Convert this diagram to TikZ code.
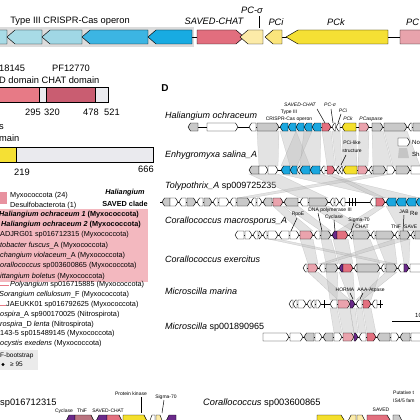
\documentclass[tikz,border=0pt]{standalone}
\usepackage{fontspec}
\setmainfont{Liberation Sans}
\definecolor{cA}{HTML}{A8DBE6}
\definecolor{cB}{HTML}{A0D7E5}
\definecolor{cC}{HTML}{3CB5E3}
\definecolor{cD}{HTML}{18ABE2}
\definecolor{cSC}{HTML}{E26E7E}
\definecolor{cPCs}{HTML}{FCEBA8}
\definecolor{cPCi}{HTML}{FBE57C}
\definecolor{cPCk}{HTML}{F5E034}
\definecolor{cPCasp}{HTML}{E8A3AC}
\definecolor{cBand}{HTML}{DCDCDC}
\definecolor{cDom1}{HTML}{E77A86}
\definecolor{cDom2}{HTML}{C95D71}
\definecolor{cLG}{HTML}{EAEAEE}
\definecolor{cG}{HTML}{C9C9C9}
\definecolor{cBl}{HTML}{1AA7DF}
\definecolor{cPk}{HTML}{E3707F}
\definecolor{cLPk}{HTML}{EAA3AD}
\definecolor{cYe}{HTML}{F4DF2C}
\definecolor{cPu}{HTML}{6A2A8A}
\definecolor{cBr}{HTML}{B9737F}
\definecolor{cTree}{HTML}{F3B8BF}
\definecolor{cLeg}{HTML}{E892A0}
\newcommand\geneR[6]{\filldraw[fill=#6,draw=black,line width=0.45pt,line join=round] (#1,{#3-#4}) -- ({#2-#5},{#3-#4}) -- (#2,#3) -- ({#2-#5},{#3+#4}) -- (#1,{#3+#4}) -- cycle;}
\newcommand\geneL[6]{\filldraw[fill=#6,draw=black,line width=0.45pt,line join=round] (#1,#3) -- ({#1+#5},{#3-#4}) -- (#2,{#3-#4}) -- (#2,{#3+#4}) -- ({#1+#5},{#3+#4}) -- cycle;}
\newcommand\dR[4]{\geneR{#1}{#2}{#3}{4}{2.5}{#4}}
\newcommand\dL[4]{\geneL{#1}{#2}{#3}{4}{2.5}{#4}}
\newcommand\band[6]{\filldraw[shadeband] (#1,#3) -- (#2,#3) -- (#5,#6) -- (#4,#6) -- cycle;}
\tikzset{
  lbl/.style={inner sep=0pt, font=\fontsize{9.3}{10}\selectfont},
  ilbl/.style={inner sep=0pt, font=\fontsize{9.3}{10}\selectfont\itshape},
  spn/.style={inner sep=0pt, anchor=west, font=\fontsize{9}{10}\selectfont\itshape},
  tiny/.style={inner sep=0pt, font=\fontsize{5}{6}\selectfont},
  itiny/.style={inner sep=0pt, font=\fontsize{5}{6}\selectfont\itshape},
  tree/.style={inner sep=0pt, anchor=west, font=\fontsize{7.3}{8}\selectfont},
  btree/.style={inner sep=0pt, anchor=west, font=\fontsize{7.3}{8}\selectfont\bfseries},
  shadeband/.style={fill=black!26, fill opacity=0.42, draw=black!45, draw opacity=0.4, line width=0.25pt},
  tick/.style={line width=0.5pt},
  trk/.style={line width=0.5pt}
}
\begin{document}
\begin{tikzpicture}[x=1pt,y=-1pt]
\useasboundingbox (0,0) rectangle (420,420);
\begin{scope}
\clip (0,0) rectangle (420,420);
\fill[white] (0,0) rectangle (420,420);
% ---------- top operon ----------
\fill[cBand] (-2,27) rectangle (194,47);
\node[lbl] (opl) at (70,21) {Type III CRISPR-Cas operon};
\node[ilbl] (scl) at (214,21) {SAVED-CHAT};
\node[ilbl] (pcsl) at (252,10) {PC-σ};
\node[ilbl] (pcil) at (276,22) {PCi};
\node[ilbl] (pckl) at (336,22) {PCk};
\node[ilbl, anchor=west] (pcal) at (406,22) {PC};
\draw[trk] (190,37) -- (200,37);
\draw[trk] (280,37) -- (290,37);
\draw[trk] (385,37) -- (402,37);
\geneL{-12}{7}{37}{7}{8}{cA}
\geneL{7}{42}{37}{7}{8}{cA}
\geneL{42}{82}{37}{7}{8}{cB}
\geneL{82}{148}{37}{7}{8}{cC}
\geneL{148}{192}{37}{7}{8}{cD}
\geneR{197}{244}{37}{7}{8}{cSC}
\geneL{240}{263}{37}{7}{8}{cPCs}
\geneL{265}{282}{37}{7}{8}{cPCi}
\geneL{286}{388}{37}{7}{12}{cPCk}
\geneR{400}{440}{37}{7}{8}{cPCasp}
\draw[tick] (259,16) -- (259,28);
% ---------- domain bars ----------
\node[lbl, anchor=west] (pf1) at (-1,68) {18145};
\node[lbl] (pf2) at (71,68) {PF12770};
\node[lbl, anchor=west] (dom) at (-1,80) {D domain CHAT domain};
\fill[cDom1] (-2,87) rectangle (39,102);
\fill[cLG] (39,87) rectangle (46,102);
\fill[cDom2] (46,87) rectangle (95,102);
\fill[cLG] (95,87) rectangle (108,102);
\draw[line width=0.6pt] (-2,87) rectangle (108,102);
\draw[line width=0.5pt] (39,87)--(39,102) (46,87)--(46,102) (95,87)--(95,102);
\node[lbl] (n295) at (33,112) {295};
\node[lbl] (n320) at (52,112) {320};
\node[lbl] (n478) at (91,112) {478};
\node[lbl] (n521) at (112,112) {521};
\node[lbl, anchor=west] (s1) at (-1,127) {s};
\node[lbl, anchor=west] (s2) at (-1,138) {main};
\fill[cPCk] (-2,147) rectangle (16,162);
\fill[cLG] (16,147) rectangle (153,162);
\draw[line width=0.6pt] (-2,147) rectangle (153,162);
\draw[line width=0.5pt] (16,147)--(16,162);
\node[lbl] (n219) at (22,172) {219};
\node[lbl] (n666) at (146,169) {666};
% ---------- tree ----------
\fill[cLeg] (-1,192) rectangle (7,204);
\node[tree] (lg1) at (10,196) {Myxococcota (24)};
\node[tree] (lg2) at (10,206) {Desulfobacterota (1)};
\node[inner sep=0pt, font=\fontsize{7.3}{8}\selectfont\bfseries\itshape] (hc1) at (125,193) {Haliangium};
\node[inner sep=0pt, font=\fontsize{7.3}{8}\selectfont\bfseries] (hc2) at (125,204) {SAVED clade};
\fill[cTree] (-2,209) rectangle (148,282);
\node[btree] (t1) at (-1,215) {\textit{Haliangium ochraceum 1} (Myxococcota)};
\node[btree] (t2) at (1,225) {\textit{Haliangium ochraceum 2} (Myxococcota)};
\node[tree] (t3) at (0,235) {ADJRG01 sp016712315 (Myxococcota)};
\node[tree] (t4) at (0,246) {\textit{tobacter fuscus}\_A (Myxococcota)};
\node[tree] (t5) at (0,256) {\textit{changium violaceum}\_A (Myxococcota)};
\node[tree] (t6) at (0,266) {\textit{orallococcus} sp003600865 (Myxococcota)};
\node[tree] (t7) at (0,277) {\textit{ittangium boletus} (Myxococcota)};
\draw[line width=0.8pt, cDom1] (-1,285) -- (9,285);
\node[tree] (t8) at (10,285) {\textit{Polyangium} sp016715885 (Myxococcota)};
\node[tree] (t9) at (-1,295) {\textit{Sorangium cellulosum}\_F (Myxococcota)};
\draw[line width=0.8pt, cDom1] (-1,305) -- (6,305);
\node[tree] (t10) at (6,305) {JAEUKK01 sp016792625 (Myxococcota)};
\node[tree] (t11) at (0,315) {\textit{ospira}\_A sp900170025 (Nitrospirota)};
\node[tree] (t12) at (0,325) {\textit{rospira}\_D \textit{lenta} (Nitrospirota)};
\node[tree] (t13) at (0,334) {143-5 sp015489145 (Myxococcota)};
\node[tree] (t14) at (0,344) {\textit{ocystis exedens} (Myxococcota)};
\fill[black!8] (-2,350) rectangle (38,370);
\node[tree, font=\fontsize{6.5}{7}\selectfont] (bs) at (0,356) {F-bootstrap};
\fill (3,364.5) circle (1.6);
\node[tree, font=\fontsize{6.5}{7}\selectfont] (bs2) at (10,364.5) {≥ 95};
% ---------- bottom left ----------
\node[lbl, anchor=west] (bl) at (0,403) {sp016712315};
\node[tiny] (cyc) at (64,411) {Cyclase};
\node[tiny] (thf) at (82,411) {ThiF};
\node[tiny] (svc) at (108,411) {SAVED-CHAT};
\node[tiny] (pk) at (131,394) {Protein kinase};
\node[tiny] (sg) at (166,397) {Sigma-70};
\draw[tick] (141,397) -- (141,413);
\draw[tick] (164,400) -- (162,413);
\geneL{65}{75}{423}{8}{4}{cPu}
\geneR{75}{95}{423}{8}{4}{cBr}
\geneL{95}{107}{423}{8}{4}{cPu}
\geneR{107}{123}{423}{8}{4}{cPk}
\geneR{123}{148}{423}{8}{4}{cYe}
\geneL{149}{155}{423}{8}{3}{white}
\geneR{156}{163}{423}{8}{3}{cPCs}
\geneL{165}{176}{423}{8}{4}{cPu}
% ---------- bottom right ----------
\node[lbl, anchor=west] (br) at (203,403) {\textit{Corallococcus} sp003600865};
\node[tiny, anchor=west] (put1) at (393,393) {Putative t};
\node[tiny, anchor=west] (put2) at (393,401) {IS4/5 fam};
\node[tiny] (svd) at (381,410) {SAVED};
\geneR{317}{346}{423}{8}{5}{cYe}
\geneL{347}{356}{423}{8}{4}{cPCs}
\geneR{357}{366}{423}{8}{4}{cPCs}
\geneR{367}{392}{423}{8}{5}{cPk}
\geneR{393}{403}{423}{8}{4}{cG}
% ---------- panel D ----------
\node[inner sep=0pt, font=\fontsize{10}{11}\selectfont\bfseries] (D) at (165,88) {D};
\node[spn] (sp1) at (165,116) {Haliangium ochraceum};
\node[spn] (sp2) at (165,155) {Enhygromyxa salina\_A};
\node[spn] (sp3) at (165,186) {Tolypothrix\_A \upshape sp009725235};
\node[spn] (sp4) at (165,221) {Corallococcus macrosporus\_A};
\node[spn] (sp5) at (165,259) {Corallococcus exercitus};
\node[spn] (sp6) at (165,291) {Microscilla marina};
\node[spn] (sp7) at (165,327) {Microscilla \upshape sp001890965};
% shaded homology bands
\band{257}{279}{131}{259}{278}{166}
\band{280}{296}{131}{290}{310}{166}
\band{296}{312}{131}{281}{297}{166}
\band{304}{321}{131}{300}{320}{166}
\band{322}{331}{131}{327}{335}{166}
\band{332}{340}{131}{336}{342}{166}
\band{342}{356}{131}{343}{357}{166}
\band{359}{369}{131}{358}{368}{166}
\band{372}{383}{131}{373}{392}{166}
\band{384}{407}{131}{393}{420}{166}
\band{281}{320}{174}{386}{420}{198}
\band{327}{335}{174}{377}{385}{198}
\band{373}{392}{174}{237}{250}{198}
\band{249}{278}{174}{300}{328}{198}
\band{273}{283}{206}{300}{313}{231}
\band{377}{385}{206}{337}{348}{231}
\band{386}{420}{206}{400}{425}{231}
\band{284}{298}{206}{321}{331}{231}
\band{309}{328}{206}{353}{370}{231}
\band{300}{313}{239}{308}{318}{264}
\band{321}{331}{239}{326}{338}{264}
\band{333}{348}{239}{339}{353}{264}
\band{353}{370}{239}{357}{380}{264}
\band{376}{394}{239}{386}{397}{264}
\band{400}{410}{239}{404}{409}{264}
\band{268}{278}{239}{386}{397}{264}
\band{395}{410}{239}{319}{325}{264}
\band{308}{318}{272}{338}{350}{300}
\band{339}{353}{272}{350}{355}{300}
\band{357}{380}{272}{363}{371}{300}
\band{326}{338}{272}{330}{337}{300}
\band{386}{397}{272}{356}{362}{300}
\band{330}{337}{308}{334}{342}{333}
\band{338}{350}{308}{343}{354}{333}
\band{350}{355}{308}{354}{358}{333}
\band{356}{362}{308}{359}{366}{333}
\band{363}{371}{308}{367}{376}{333}
% row 1
\draw[trk] (188,127) -- (425,127);
\dL{188}{198}{127}{cG}
\dR{207}{238}{127}{white}
\dL{249}{256}{127}{white}
\dR{257}{279}{127}{cG}
\dL{280}{288}{127}{cBl}\dL{288}{296}{127}{cBl}\dL{296}{304}{127}{cBl}\dL{304}{312}{127}{cBl}\dL{312}{321}{127}{cBl}
\dR{322}{331}{127}{cPk}
\dL{332}{335.5}{127}{white}\dL{336}{340}{127}{white}
\dL{342}{356}{127}{cYe}
\dR{359}{369}{127}{cLPk}
\dR{372}{383}{127}{cG}
\dR{384}{407}{127}{cG}
\dL{408}{412}{127}{white}
\dR{413}{425}{127}{cG}
\node[itiny] (l1a) at (300,105) {SAVED-CHAT};
\node[tiny] (l1b) at (289,112) {Type III};
\node[tiny] (l1c) at (289,119) {CRISPR-Cas operon};
\node[itiny] (l1d) at (330,105) {PC-σ};
\node[itiny] (l1e) at (343,111) {PCi};
\node[itiny] (l1f) at (348,119) {PCk};
\node[itiny] (l1g) at (371,119) {PCaspase};
\draw[tick] (317,109) -- (325,123);
\draw[tick] (331,109) -- (333,123);
\draw[tick] (341,114) -- (338,123);
% legend
\dR{398}{410}{142}{white}
\node[inner sep=0pt, anchor=west, font=\fontsize{6}{7}\selectfont] (lgn) at (412,142) {No};
\fill[black!30, fill opacity=0.6] (399,148) -- (407,148) -- (409,158) -- (398,158) -- cycle;
\node[inner sep=0pt, anchor=west, font=\fontsize{6}{7}\selectfont] (lgs) at (412,154) {Sha};
% row 2
\draw[trk] (249,170) -- (425,170);
\dL{249}{259}{170}{cG}\dR{259}{268}{170}{white}\dR{268}{278}{170}{white}
\dL{281}{290}{170}{cBl}\dL{290}{297}{170}{cBl}\dL{297}{300}{170}{white}\dL{300}{310}{170}{cBl}\dL{310}{320}{170}{cBl}
\dL{321}{325}{170}{white}
\dR{327}{335}{170}{cPk}
\dL{336}{339}{170}{white}\dL{339.5}{342.5}{170}{white}
\dL{343}{357}{170}{cYe}
\dR{358}{368}{170}{cLPk}
\dL{369}{372}{170}{white}
\dR{373}{386}{170}{cG}\dR{387}{395}{170}{white}\dR{396}{410}{170}{cG}\dR{411}{425}{170}{white}
\node[tiny] (l2a) at (352,143) {PCi-like};
\node[tiny] (l2b) at (352,151) {structure};
\draw[tick] (346,155) -- (341,165);
% row 3
\draw[trk] (160,202) -- (425,202);
\dL{162}{170}{202}{cG}\dR{170}{178}{202}{white}\dL{179}{186}{202}{white}\dR{187}{196}{202}{cG}
\dL{197}{203}{202}{white}\dR{204}{212}{202}{cG}\dL{213}{218}{202}{white}\dR{219}{229}{202}{white}
\dL{230}{236}{202}{white}\dR{237}{250}{202}{cG}\dL{251}{256}{202}{white}\dR{257}{262}{202}{white}
\dL{263}{272}{202}{cG}\dR{273}{283}{202}{cLPk}\dL{284}{298}{202}{cG}\dL{300}{308}{202}{white}
\dR{309}{328}{202}{cG}\dL{330}{334}{202}{white}\dR{335}{339}{202}{white}\dL{340}{345}{202}{white}
\draw[line width=0.8pt] (349,198)--(349,206) (352,198)--(352,206) (355,198)--(355,206);
\dL{370}{376}{202}{white}\dR{376}{385}{202}{cPk}
\dL{386}{396}{202}{cBl}\dL{396}{406}{202}{cBl}\dL{406}{416}{202}{cBl}\dL{416}{426}{202}{cBl}
\node[inner sep=0pt, anchor=west, font=\fontsize{6}{7}\selectfont] (l3a) at (410,213) {Re};
% row 4
\draw[trk] (235,235) -- (425,235);
\dL{235}{244}{235}{white}\dR{245}{252}{235}{white}\dL{253}{258}{235}{white}\dR{259}{262}{235}{white}
\dL{263}{267}{235}{white}\dR{268}{278}{235}{white}\dL{279}{289}{235}{white}\dR{290}{299}{235}{white}
\dR{300}{313}{235}{cLPk}\dL{314}{320}{235}{white}\dR{321}{331}{235}{cG}
\dL{332}{337}{235}{cPu}\dR{337}{348}{235}{cPk}\dL{349}{352}{235}{white}\dR{353}{370}{235}{cG}
\dL{371}{375}{235}{white}\dR{376}{394}{235}{cG}\dL{395}{399}{235}{white}\dR{400}{410}{235}{cG}
\dL{411}{414}{235}{white}\dR{415}{425}{235}{cG}
\node[tiny] (l4a) at (298,214) {RpoE};
\node[tiny] (l4b) at (330,210) {DNA polymerase III};
\node[tiny] (l4c) at (334,217) {Cyclase};
\node[tiny] (l4d) at (359,220) {Sigma-70};
\node[tiny] (l4e) at (362,227) {CHAT};
\node[tiny] (l4f) at (404,212) {JAB};
\node[tiny] (l4g) at (396,227) {ThiF};
\node[tiny, anchor=west] (l4h) at (404,227) {SAVE};
\draw[tick] (297,218) -- (291,231);
\draw[tick] (318,213) -- (322,231);
\draw[tick] (334,220) -- (335,231);
\draw[tick] (354,223) -- (351,231);
\draw[tick] (404,215) -- (403,231);
% row 5
\draw[trk] (303,268) -- (425,268);
\dL{303}{307}{268}{white}\dR{308}{318}{268}{cLPk}\dL{319}{325}{268}{white}\dR{326}{338}{268}{cG}
\dL{339}{343}{268}{cPu}\dR{343}{353}{268}{cPk}\dL{354}{357}{268}{white}\dR{357}{380}{268}{cG}
\dL{381}{385}{268}{white}\dR{386}{397}{268}{cG}\dL{398}{404}{268}{white}\dR{404}{409}{268}{cPu}\dR{410}{425}{268}{white}
% row 6
\draw[trk] (289,304) -- (383,304);
\dL{289}{293}{304}{white}\dL{293}{297}{304}{white}\dR{298}{306}{304}{white}\dL{307}{311}{304}{white}
\dL{311}{315}{304}{white}\dR{316}{321}{304}{white}
\draw[line width=0.8pt] (324,300)--(324,308);
\dL{330}{337}{304}{white}\dR{338}{350}{304}{cLPk}\dR{350}{355}{304}{cPu}\dL{356}{362}{304}{white}
\dR{363}{371}{304}{cPk}\dL{372}{377}{304}{white}
\draw[line width=0.8pt] (380,300)--(380,308);
\node[tiny] (l6a) at (345,290) {HORMA};
\node[tiny] (l6b) at (371,290) {AAA-Atpase};
\draw[tick] (350,293) -- (353,299);
\draw[tick] (363,293) -- (360,299);
% row 7
\draw[trk] (263,337) -- (425,337);
\dR{263}{289}{337}{white}\dR{290}{303}{337}{white}\dL{304}{314}{337}{cG}\dR{315}{322}{337}{white}
\dL{323}{333}{337}{cG}\dR{334}{342}{337}{white}\dR{343}{354}{337}{cLPk}\dR{354}{358}{337}{cPu}
\dL{359}{366}{337}{white}\dR{367}{376}{337}{cPk}\dL{377}{390}{337}{cG}\dR{391}{399}{337}{white}
\dL{400}{410}{337}{cG}\dR{411}{425}{337}{white}
% scale bar
\draw[line width=0.6pt] (392,321) -- (422,321);
\node[inner sep=0pt, anchor=west, font=\fontsize{6}{7}\selectfont] (scl2) at (415,315) {10};
\end{scope}
\end{tikzpicture}
\end{document}
